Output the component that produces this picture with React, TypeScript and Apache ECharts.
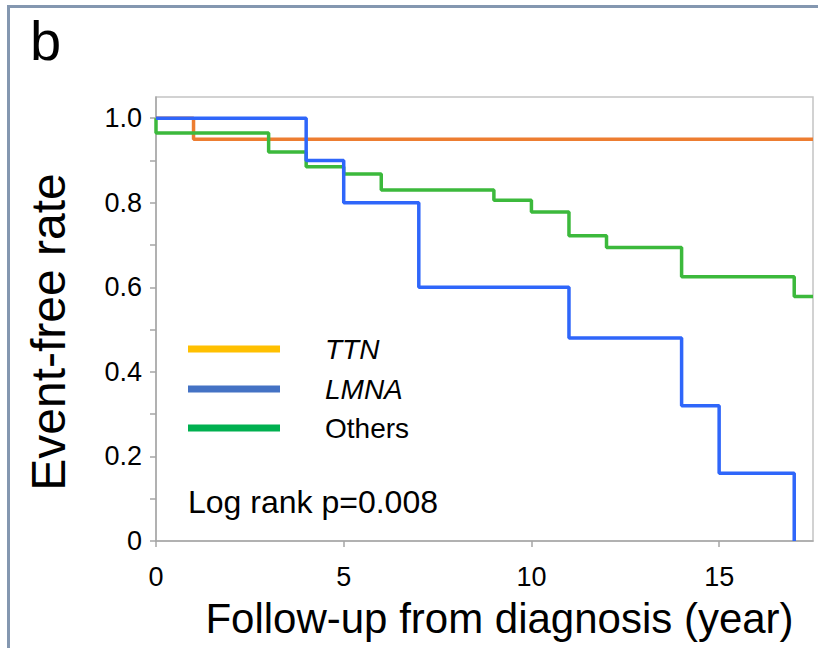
import React, { useEffect, useRef } from "react";
import * as echarts from "echarts";

const ttnTimes = [0, 1, 17.5];
const ttnRates = [1.0, 0.95, 0.95];

const lmnaTimes = [0, 4, 5, 7, 11, 14, 15, 17];
const lmnaRates = [1.0, 0.9, 0.8, 0.6, 0.48, 0.32, 0.16, 0];

const othersTimes = [0, 0, 3, 4, 5, 6, 9, 10, 11, 12, 14, 17, 17.5];
const othersRates = [1.0, 0.965, 0.92, 0.885, 0.868, 0.83, 0.806, 0.778, 0.722, 0.694, 0.625, 0.578, 0.578];

const xTickValues = [0, 5, 10, 15];
const yTickValues = [0, 0.1, 0.2, 0.3, 0.4, 0.5, 0.6, 0.7, 0.8, 0.9, 1.0];
const yLabelValues = [0, 0.2, 0.4, 0.6, 0.8, 1.0];

const legendNames = ["TTN", "LMNA", "Others"];
const legendItalic = [true, true, false];
const legendColors = ["#FFC000", "#4472C4", "#00B050"];

const pairs = (t: number[], v: number[]) => t.map((x, i) => [x, v[i]]);

const FONT = "'Liberation Sans', Arial, sans-serif";

export default function App() {
  const ref = useRef<HTMLDivElement>(null);
  useEffect(() => {
    if (!ref.current) return;
    const chart = echarts.init(ref.current, undefined, { renderer: "svg" });
    const legendY = [349, 389, 428];
    const graphics: any[] = [
      { type: "rect", shape: { x: 7, y: 5, width: 3, height: 660 }, style: { fill: "#8497B0" } },
      { type: "rect", shape: { x: 7, y: 5, width: 820, height: 3 }, style: { fill: "#8497B0" } },
      {
        type: "text",
        left: 30,
        top: 12,
        style: { text: "b", fontSize: 56, fontFamily: FONT, fill: "#000" },
      },
      {
        type: "text",
        x: 48,
        y: 332,
        rotation: Math.PI / 2,
        style: {
          text: "Event-free rate",
          fontSize: 48,
          fontFamily: FONT,
          fill: "#000",
          align: "center",
          verticalAlign: "middle",
        },
      },
      {
        type: "text",
        left: 188,
        top: 486,
        style: { text: "Log rank p=0.008", fontSize: 32, fontFamily: FONT, fill: "#000" },
      },
    ];
    legendNames.forEach((n, i) => {
      graphics.push({
        type: "line",
        shape: { x1: 188, y1: legendY[i], x2: 280, y2: legendY[i] },
        style: { stroke: legendColors[i], lineWidth: 7 },
      });
      graphics.push({
        type: "text",
        x: 325,
        y: legendY[i],
        style: {
          text: n,
          fontSize: 28,
          fontStyle: legendItalic[i] ? "italic" : "normal",
          fontFamily: FONT,
          fill: "#000",
          verticalAlign: "middle",
        },
      });
    });
    chart.setOption({
      animation: false,
      backgroundColor: "#fff",
      grid: {
        left: 156,
        right: 5,
        top: 97,
        bottom: 107,
        show: true,
        borderColor: "#c4c4c4",
        borderWidth: 1.5,
      },
      xAxis: {
        type: "value",
        min: 0,
        max: 17.5,
        interval: 5,
        name: "Follow-up from diagnosis (year)",
        nameLocation: "middle",
        nameGap: 56,
        nameTextStyle: { fontSize: 42, fontFamily: FONT, color: "#000", padding: [0, 0, 0, 30] },
        axisLine: { lineStyle: { color: "#a6a6a6", width: 1.5 } },
        axisTick: { customValues: xTickValues, length: 6, lineStyle: { color: "#a6a6a6", width: 1.5 } },
        axisLabel: {
          customValues: xTickValues,
          fontSize: 27,
          fontFamily: FONT,
          color: "#000",
          margin: 22,
        },
        splitLine: { show: false },
      },
      yAxis: {
        type: "value",
        min: 0,
        max: 1.05,
        interval: 0.1,
        axisLine: { show: true, lineStyle: { color: "#a6a6a6", width: 1.5 } },
        axisTick: { show: true, customValues: yTickValues, length: 6, lineStyle: { color: "#a6a6a6", width: 1.5 } },
        axisLabel: {
          customValues: yLabelValues,
          fontSize: 27,
          fontFamily: FONT,
          color: "#000",
          margin: 14,
          formatter: (v: number) => (v === 0 ? "0" : v.toFixed(1)),
        },
        splitLine: { show: false },
      },
      series: [
        {
          name: "TTN",
          type: "line",
          step: "end",
          data: pairs(ttnTimes, ttnRates),
          showSymbol: false,
          symbol: "none",
          lineStyle: { color: "#ED7D31", width: 3.5 },
        },
        {
          name: "Others",
          type: "line",
          step: "end",
          data: pairs(othersTimes, othersRates),
          showSymbol: false,
          symbol: "none",
          lineStyle: { color: "#3CB93C", width: 3.5 },
        },
        {
          name: "LMNA",
          type: "line",
          step: "end",
          data: pairs(lmnaTimes, lmnaRates),
          showSymbol: false,
          symbol: "none",
          lineStyle: { color: "#2F66FA", width: 3.5 },
        },
      ],
      graphic: graphics,
    });
    return () => chart.dispose();
  }, []);
  return (
    <div
      ref={ref}
      style={{ position: "fixed", left: 0, top: 0, width: 818, height: 648 }}
    />
  );
}
